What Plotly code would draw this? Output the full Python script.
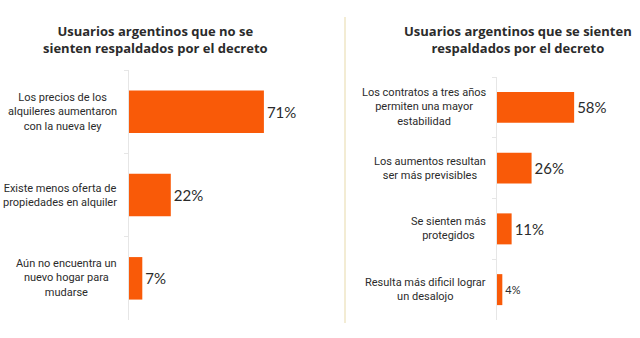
import plotly.graph_objects as go

# Survey results: renters who do NOT feel backed by the decree
left_title = "Usuarios argentinos que no se<br>sienten respaldados por el decreto"
left_cats = [
    "Los precios de los<br>alquileres aumentaron<br>con la nueva ley",
    "Existe menos oferta de<br>propiedades en alquiler",
    "Aún no encuentra un<br>nuevo hogar para<br>mudarse",
]
left_vals = [71, 22, 7]

# Survey results: renters who DO feel backed by the decree
right_title = "Usuarios argentinos que se sienten<br>respaldados por el decreto"
right_cats = [
    "Los contratos a tres años<br>permiten una mayor<br>estabilidad",
    "Los aumentos resultan<br>ser más previsibles",
    "Se sienten más<br>protegidos",
    "Resulta más dificil lograr<br>un desalojo",
]
right_vals = [58, 26, 11, 4]

W, H = 640, 338
ORANGE = "#f95a08"
TEXT = "#2b2b2b"
AXIS = "#e6e6e6"
LABEL_FONT = "Roboto"
VALUE_FONT = "Lato"
TITLE_FONT = "Open Sans"


def px_x(p):
    return p / W


def px_y(p):
    return 1 - p / H


fig = go.Figure()

fig.add_trace(go.Bar(
    x=left_vals, y=left_cats, orientation="h",
    marker=dict(color=ORANGE, line=dict(width=0)),
    text=[f"{v}%" for v in left_vals], textposition="outside",
    textfont=dict(family=VALUE_FONT, size=15, color=TEXT),
    cliponaxis=False, xaxis="x", yaxis="y", hoverinfo="skip",
))
fig.add_trace(go.Bar(
    x=right_vals, y=right_cats, orientation="h",
    marker=dict(color=ORANGE, line=dict(width=0)),
    text=[f"{v}%" for v in right_vals], textposition="outside",
    textfont=dict(family=VALUE_FONT, size=[15, 15, 15, 11], color=TEXT),
    cliponaxis=False, xaxis="x2", yaxis="y2", hoverinfo="skip",
))

common_y = dict(
    type="category", autorange="reversed", showticklabels=False,
    showline=True, linecolor=AXIS, linewidth=1,
    ticks="outside", tickson="boundaries", ticklen=4, tickcolor=AXIS,
    showgrid=False, zeroline=False, fixedrange=True,
)
common_x = dict(range=[0, 100], visible=False, fixedrange=True)

annotations = []
# centred multi-line category labels, right edge just left of the axis
for cat in left_cats:
    annotations.append(dict(
        text=cat, xref="paper", x=px_x(119), xanchor="right",
        yref="y", y=cat, yanchor="middle", align="center", showarrow=False,
        font=dict(family=LABEL_FONT, size=11, color=TEXT),
    ))
for cat in right_cats:
    annotations.append(dict(
        text=cat, xref="paper", x=px_x(488), xanchor="right",
        yref="y2", y=cat, yanchor="middle", align="center", showarrow=False,
        font=dict(family=LABEL_FONT, size=11, color=TEXT),
    ))
annotations.append(dict(
    text=f"<b>{left_title}</b>", xref="paper", yref="paper",
    x=px_x(155), y=px_y(40), xanchor="center", yanchor="middle",
    align="center", showarrow=False,
    font=dict(family=TITLE_FONT, size=13, color=TEXT),
))
annotations.append(dict(
    text=f"<b>{right_title}</b>", xref="paper", yref="paper",
    x=px_x(518), y=px_y(40), xanchor="center", yanchor="middle",
    align="center", showarrow=False,
    font=dict(family=TITLE_FONT, size=13, color=TEXT),
))

fig.update_layout(
    width=W, height=H, autosize=False,
    margin=dict(l=0, r=0, t=0, b=0),
    paper_bgcolor="white", plot_bgcolor="white",
    showlegend=False, bargap=0.49,
    xaxis=dict(domain=[px_x(129), px_x(319)], anchor="y", **common_x),
    yaxis=dict(domain=[px_y(320), px_y(70)], anchor="x", **common_y),
    xaxis2=dict(domain=[px_x(497), px_x(630)], anchor="y2", **common_x),
    yaxis2=dict(domain=[px_y(320), px_y(77)], anchor="x2", **common_y),
    annotations=annotations,
    shapes=[dict(
        type="line", xref="paper", yref="paper",
        x0=px_x(345), x1=px_x(345), y0=px_y(17), y1=px_y(323),
        line=dict(color="#efe6c6", width=1.5),
    )],
)

fig.write_html("out.html")
